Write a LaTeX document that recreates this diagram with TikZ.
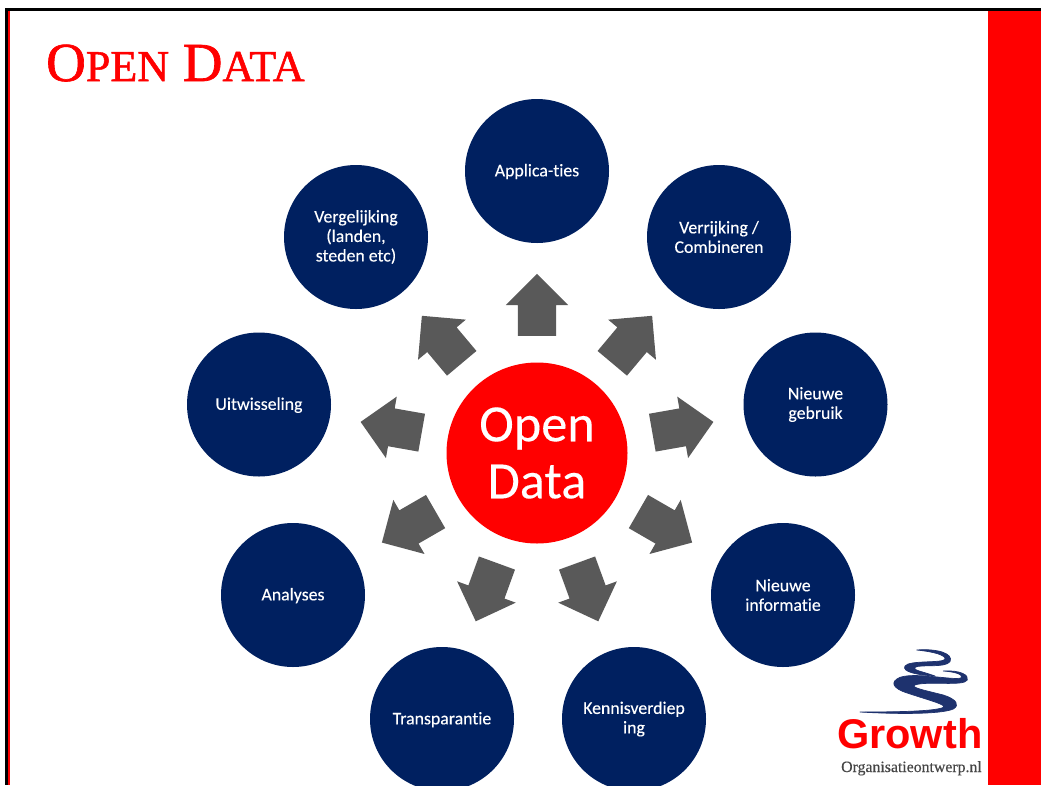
\documentclass[tikz,border=0pt]{standalone}
\usepackage{fontspec}
\setmainfont{Carlito}[Ligatures=CommonOff,FakeBold=0.2]
\newfontfamily\titlefont[FakeBold=1.2]{Liberation Serif}
\newfontfamily\urlfont[FakeBold=0.3]{Liberation Serif}
\newfontfamily\logofont{Liberation Sans}
\usetikzlibrary{shapes.arrows,calc}
\definecolor{navy}{RGB}{0,32,96}
\definecolor{arrowgrey}{RGB}{89,89,89}
\definecolor{logonavy}{RGB}{30,50,110}
\definecolor{urltext}{RGB}{70,70,70}
\tikzset{
  topic/.style={circle,fill=navy,minimum size=144pt,inner sep=0pt,text=white,align=center,font=\fontsize{17.8}{19.5}\selectfont},
  oneline/.style={text height=13pt,text depth=2.3pt},
  hub/.style={circle,fill=red,minimum size=181pt,inner sep=0pt,text=white,align=center,font=\fontsize{52.3}{59}\selectfont},
  blockarrow/.style={single arrow,fill=arrowgrey,minimum height=62pt,inner xsep=0pt,inner ysep=19pt,single arrow head extend=12pt,single arrow head indent=0pt},
  swirl/.style={fill=logonavy,draw=logonavy,line width=0.7pt,line join=round},
}
\begin{document}
\begin{tikzpicture}[x=1pt,y=-1pt]
\useasboundingbox (0,0) rectangle (1041,785);
\fill[white] (0,0) rectangle (1041,785);
% slide frame
\fill[red] (988,10) rectangle (1041,785);
\fill[red] (7,10) rectangle (10,785);
\fill[black] (5,8) rectangle (1041,11);
\fill[black] (5,8) rectangle (8,785);
% title
\node[anchor=base west,inner sep=0pt,text=red,font=\titlefont] (title) at (46,81)
  {\fontsize{55}{60}\selectfont O\fontsize{44}{60}\selectfont PEN\fontsize{55}{60}\selectfont{} D\fontsize{44}{60}\selectfont ATA};
% hub and topics
\node[hub] (hub) at (537,453) {Open\\[-2pt]Data};
\node[topic,oneline] (t1) at (537,171) {Applica-ties};
\node[topic] (t2) at (719,237) {Verrijking /\\Combineren};
\node[topic] (t3) at (815.5,404.5) {Nieuwe\\gebruik};
\node[topic] (t4) at (783,595) {Nieuwe\\informatie};
\node[topic] (t5) at (634,719) {Kennisverdiep\\ing};
\node[topic,oneline] (t6) at (442,719) {Transparantie};
\node[topic,oneline] (t7) at (293,595) {Analyses};
\node[topic,oneline] (t8) at (259,404.5) {Uitwisseling};
\node[topic] (t9) at (356,237) {Vergelijking\\(landen,\\steden etc)};
% block arrows
\foreach \ang/\nm in {90/a1,50/a2,10/a3,-30/a4,-70/a5,-110/a6,-150/a7,170/a8,130/a9}{
  \node[blockarrow,rotate=\ang] (\nm) at ($(hub)+(\ang:138.5pt)$) {};
}
% logo
\begin{scope}[shift={(820,640)},x=0.3333pt,y=-0.3333pt]
\path[swirl] (290,30) .. controls (350,25) and (402,40) .. (390,65)
  .. controls (375,85) and (300,72) .. (285,82)
  .. controls (275,90) and (310,95) .. (345,108)
  .. controls (290,105) and (245,95) .. (255,78)
  .. controls (268,60) and (365,70) .. (375,58)
  .. controls (378,45) and (340,35) .. (290,30) -- cycle;
\path[swirl] (370,93) .. controls (420,90) and (448,105) .. (442,120)
  .. controls (432,140) and (320,122) .. (285,135)
  .. controls (270,142) and (310,150) .. (370,165)
  .. controls (410,178) and (420,195) .. (400,207)
  .. controls (360,224) and (220,222) .. (120,216)
  .. controls (230,216) and (340,214) .. (368,203)
  .. controls (385,195) and (330,182) .. (265,160)
  .. controls (215,145) and (210,125) .. (240,112)
  .. controls (290,95) and (415,125) .. (425,112)
  .. controls (428,102) and (400,95) .. (370,93) -- cycle;
\end{scope}
\node[anchor=base west,inner sep=0pt,text=red,font=\logofont\bfseries\fontsize{41.5}{44}\selectfont] (growth) at (837,748) {Growth};
\node[anchor=base west,inner sep=0pt,text=urltext,font=\urlfont\fontsize{15.8}{18}\selectfont] (url) at (841,772) {Organisatieontwerp.nl};
\end{tikzpicture}
\end{document}
